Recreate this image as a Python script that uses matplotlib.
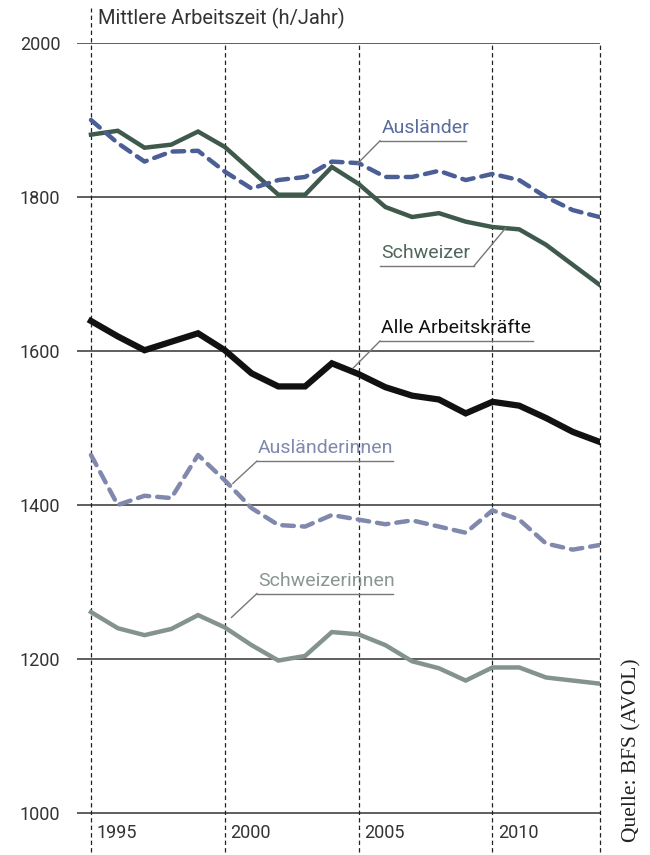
import matplotlib
matplotlib.use("Agg")
import matplotlib.pyplot as plt

# --- data ---
years = list(range(1995, 2015))
alle = [1639, 1619, 1601, 1612, 1623, 1601, 1571, 1554, 1554, 1584,
        1570, 1553, 1542, 1537, 1519, 1534, 1529, 1513, 1495, 1482]
schweizer = [1881, 1886, 1864, 1868, 1885, 1865, 1834, 1803, 1803, 1839,
             1817, 1787, 1774, 1779, 1768, 1761, 1758, 1738, 1712, 1686]
auslaender = [1900, 1870, 1846, 1859, 1860, 1833, 1811, 1822, 1826, 1846,
              1844, 1826, 1826, 1834, 1822, 1830, 1822, 1800, 1783, 1774]
auslaenderinnen = [1465, 1400, 1412, 1409, 1465, 1432, 1396, 1374, 1372, 1387,
                   1381, 1375, 1380, 1372, 1364, 1393, 1381, 1350, 1342, 1348]
schweizerinnen = [1261, 1240, 1231, 1239, 1257, 1241, 1218, 1198, 1204, 1235,
                  1232, 1218, 1197, 1188, 1172, 1189, 1189, 1176, 1172, 1168]

y_ticks = [1000, 1200, 1400, 1600, 1800, 2000]
x_lines = [1995, 2000, 2005, 2010, 2014]
x_labels = ["1995", "2000", "2005", "2010"]

plt.rcParams["font.family"] = ["Roboto", "DejaVu Sans"]

fig = plt.figure(figsize=(6.5, 8.55), dpi=100)
ax = fig.add_axes([77 / 650, 3.5 / 855, 522.5 / 650, 808.5 / 855])
ax.set_xlim(1995 - 14 / 26.8, 2014)
ax.set_ylim(950, 2000)
for s in ax.spines.values():
    s.set_visible(False)
ax.set_xticks([])
ax.set_yticks(y_ticks)
ax.set_yticklabels([str(v) for v in y_ticks], fontsize=13, color="#333333")
ax.tick_params(axis="y", length=0, pad=12)

# grid
for v in y_ticks:
    ax.axhline(v, color="#333333", lw=1.1, zorder=1)
for i, yr in enumerate(x_lines):
    top = 2045 if i == 0 else 2000
    ax.plot([yr, yr], [950, top], color="#222222", lw=0.9,
            dashes=(3.5, 2.5), clip_on=False, zorder=1)
for yr, lab in zip(x_lines, x_labels):
    ax.text(yr + 0.2, 962, lab, fontsize=13, color="#333333",
            ha="left", va="bottom")

ax.text(1995 + 0.25, 2032, "Mittlere Arbeitszeit (h/Jahr)", fontsize=14.5,
        color="#333333", ha="left", va="center", clip_on=False)

# series
c_schw = "#3f5a4c"
c_ausl = "#4b5f96"
c_ausli = "#8088ae"
c_schwi = "#84948c"
ax.plot(years, schweizerinnen, color=c_schwi, lw=3.2, zorder=3,
        solid_joinstyle="miter")
ax.plot(years, auslaenderinnen, color=c_ausli, lw=3.2, dashes=(2.6, 1.8),
        dash_capstyle="round", zorder=3)
ax.plot(years, alle, color="#111111", lw=4.5, zorder=4, solid_joinstyle="miter")
ax.plot(years, schweizer, color=c_schw, lw=3.2, zorder=3, solid_joinstyle="miter")
ax.plot(years, auslaender, color=c_ausl, lw=3.2, dashes=(2.6, 1.8),
        dash_capstyle="round", zorder=3)


def callout(text, color, x0, x1, y_line, anchor, tx=None):
    """Underlined label with a slanted leader line to the series."""
    ax.text(x0 + 0.05, y_line + 5, text, fontsize=14, color=color,
            ha="left", va="bottom", zorder=6)
    ax.plot([x0, x1], [y_line, y_line], color="#777777", lw=1.0, zorder=5)
    start = x0 if tx is None else tx
    ax.plot([start, anchor[0]], [y_line, anchor[1]], color="#777777",
            lw=1.0, zorder=5)


# label positions in data units (x: years, y: hours)
callout("Ausländer", "#5a6c9e", 2005.8, 2009.0, 1873, (2004.95, 1843))
callout("Schweizer", "#50665a", 2005.8, 2009.3, 1710, (2010.5, 1760), tx=2009.3)
callout("Alle Arbeitskräfte", "#111111", 2005.8, 2011.5, 1613, (2004.8, 1578))
callout("Ausländerinnen", "#8088ae", 2001.2, 2006.3, 1457, (2000.3, 1428))
callout("Schweizerinnen", "#8a9790", 2001.2, 2006.3, 1285, (2000.25, 1254))

fig.text(632 / 650, 1 - 750 / 855, "Quelle: BFS (AVOL)", rotation=90,
         fontsize=15.5, family=["Liberation Serif", "DejaVu Serif"],
         color="#222222", ha="center", va="center")

fig.savefig("out.png", dpi=100)
